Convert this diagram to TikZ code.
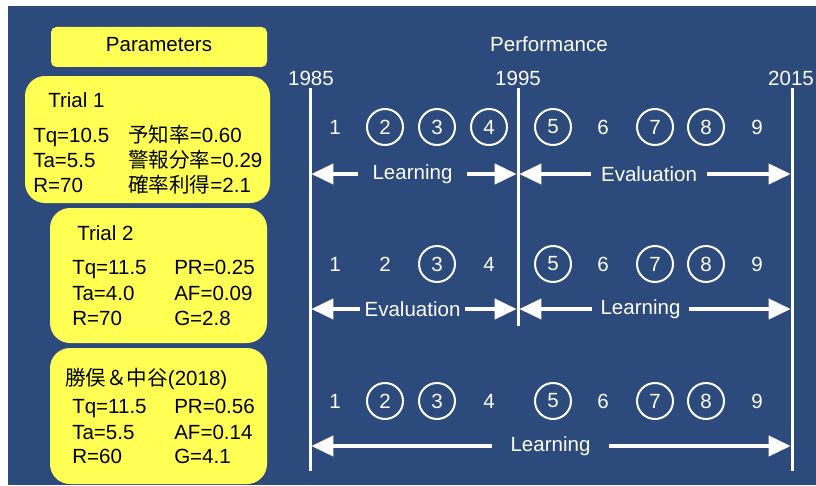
\documentclass[tikz,border=0pt]{standalone}
\usepackage{fontspec}
\setmainfont{Liberation Sans}
\newfontfamily\jpfont{Noto Sans CJK JP}
\usetikzlibrary{arrows.meta}
\definecolor{slideblue}{RGB}{44,74,124}
\definecolor{boxyellow}{RGB}{255,255,84}
\tikzset{
  panel/.style={fill=boxyellow, rounded corners=15pt},
  txt/.style={inner sep=0pt, anchor=base west, font=\fontsize{15.4}{18}\selectfont},
  wtxt/.style={txt, anchor=base, text=white},
  num/.style={circle, inner sep=0pt, minimum size=27pt, text=white, font=\fontsize{15.4}{18}\selectfont},
  cnum/.style={num, draw=white, line width=1.5pt},
  yearline/.style={white, line width=2.25pt},
  span/.style={white, line width=3pt, shorten >=1pt, -{Triangle[length=16.5pt,width=15pt]}},
  spanlabel/.style={inner sep=0pt, text=white, font=\fontsize{15.4}{18}\selectfont}
}
\begin{document}
\begin{tikzpicture}[x=0.75pt, y=-0.75pt]
  \useasboundingbox (0,0) rectangle (816,485);
  \fill[white] (0,0) rectangle (816,485);
  \fill[slideblue] (8,6) rectangle (816,485);

  % parameter panels
  \fill[panel, rounded corners=4pt] (51,27) rectangle (267,67);
  \node[txt, anchor=base] (parhead) at (159,52) {Parameters};

  \fill[panel] (25,76) rectangle (270,203);
  \node[txt] (t1head) at (48,107) {Trial 1};
  \node[txt] (t1tq) at (33,142) {Tq=10.5};
  \node[txt] (t1ta) at (33,167) {Ta=5.5};
  \node[txt] (t1r) at (33,192) {R=70};
  \node[txt] (t1pr) at (128,142) {{\jpfont 予知率}=0.60};
  \node[txt] (t1af) at (128,167) {{\jpfont 警報分率}=0.29};
  \node[txt] (t1g) at (128,192) {{\jpfont 確率利得}=2.1};

  \fill[panel] (50,208) rectangle (267,343);
  \node[txt] (t2head) at (77,240) {Trial 2};
  \node[txt] (t2tq) at (72,274) {Tq=11.5};
  \node[txt] (t2ta) at (72,300) {Ta=4.0};
  \node[txt] (t2r) at (72,325) {R=70};
  \node[txt] (t2pr) at (174,274) {PR=0.25};
  \node[txt] (t2af) at (174,300) {AF=0.09};
  \node[txt] (t2g) at (174,325) {G=2.8};

  \fill[panel] (50,348) rectangle (267,484);
  \node[txt] (t3head) at (65,385) {{\jpfont 勝俣＆中谷}(2018)};
  \node[txt] (t3tq) at (72,413) {Tq=11.5};
  \node[txt] (t3ta) at (72,439) {Ta=5.5};
  \node[txt] (t3r) at (72,463) {R=60};
  \node[txt] (t3pr) at (174,413) {PR=0.56};
  \node[txt] (t3af) at (174,439) {AF=0.14};
  \node[txt] (t3g) at (174,463) {G=4.1};

  % time axis
  \node[wtxt] (perf) at (549,52) {Performance};
  \node[wtxt] (y1985) at (311,85) {1985};
  \node[wtxt] (y1995) at (518,85) {1995};
  \node[wtxt] (y2015) at (791,85) {2015};
  \coordinate (l85top) at (310,88);
  \coordinate (l85bot) at (310,471);
  \coordinate (l95top) at (518,88);
  \coordinate (l95bot) at (518,326);
  \coordinate (l15top) at (792,88);
  \coordinate (l15bot) at (792,471);
  \draw[yearline] (l85top) -- (l85bot);
  \draw[yearline] (l95top) -- (l95bot);
  \draw[yearline] (l15top) -- (l15bot);

  % trial 1 row
  \node[num] (r1n1) at (335,127) {1};
  \node[cnum] (r1n2) at (385,127) {2};
  \node[cnum] (r1n3) at (437,127) {3};
  \node[cnum] (r1n4) at (489,127) {4};
  \node[cnum] (r1n5) at (553,127) {5};
  \node[num] (r1n6) at (603,127) {6};
  \node[cnum] (r1n7) at (655,127) {7};
  \node[cnum] (r1n8) at (706,127) {8};
  \node[num] (r1n9) at (757,127) {9};
  \coordinate (r1a85) at (310,174);
  \coordinate (r1a95) at (518,174);
  \coordinate (r1a15) at (792,174);
  \node[spanlabel] (r1lrn) at (412.5,174) {Learning};
  \node[spanlabel] (r1evl) at (649,174) {Evaluation};
  \draw[span, shorten <=10.5pt] (r1lrn.west) -- (r1a85);
  \draw[span, shorten <=10.5pt] (r1lrn.east) -- (r1a95);
  \draw[span, shorten <=7.5pt] (r1evl.west) -- (r1a95);
  \draw[span, shorten <=7.5pt] (r1evl.east) -- (r1a15);

  % trial 2 row
  \node[num] (r2n1) at (335,264) {1};
  \node[num] (r2n2) at (385,264) {2};
  \node[cnum] (r2n3) at (437,264) {3};
  \node[num] (r2n4) at (489,264) {4};
  \node[cnum] (r2n5) at (553,264) {5};
  \node[num] (r2n6) at (603,264) {6};
  \node[cnum] (r2n7) at (655,264) {7};
  \node[cnum] (r2n8) at (706,264) {8};
  \node[num] (r2n9) at (757,264) {9};
  \coordinate (r2a85) at (310,309);
  \coordinate (r2a95) at (518,309);
  \coordinate (r2a15) at (792,309);
  \node[spanlabel] (r2evl) at (412.5,309) {Evaluation};
  \node[spanlabel] (r2lrn) at (640.5,309) {Learning};
  \draw[span, shorten <=3.5pt] (r2evl.west) -- (r2a85);
  \draw[span, shorten <=3.5pt] (r2evl.east) -- (r2a95);
  \draw[span, shorten <=6pt] (r2lrn.west) -- (r2a95);
  \draw[span, shorten <=6pt] (r2lrn.east) -- (r2a15);

  % katsumata & nakatani row
  \node[num] (r3n1) at (335,401) {1};
  \node[cnum] (r3n2) at (385,401) {2};
  \node[cnum] (r3n3) at (437,401) {3};
  \node[num] (r3n4) at (489,401) {4};
  \node[cnum] (r3n5) at (553,401) {5};
  \node[num] (r3n6) at (603,401) {6};
  \node[cnum] (r3n7) at (655,401) {7};
  \node[cnum] (r3n8) at (706,401) {8};
  \node[num] (r3n9) at (757,401) {9};
  \coordinate (r3a85) at (310,446);
  \coordinate (r3a15) at (792,446);
  \node[spanlabel] (r3lrn) at (550.5,446) {Learning};
  \draw[span, shorten <=13.5pt] (r3lrn.west) -- (r3a85);
  \draw[span, shorten <=13.5pt] (r3lrn.east) -- (r3a15);
\end{tikzpicture}
\end{document}
